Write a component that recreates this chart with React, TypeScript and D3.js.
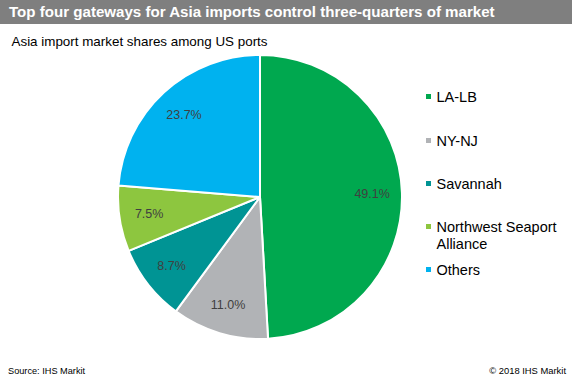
import React from "react";
import * as d3 from "d3";

const categories = ["LA-LB", "NY-NJ", "Savannah", "Northwest Seaport Alliance", "Others"];
const legendLines = [["LA-LB"], ["NY-NJ"], ["Savannah"], ["Northwest Seaport", "Alliance"], ["Others"]];
const shares = [49.1, 11.0, 8.7, 7.5, 23.7];
const colors = ["#00a84f", "#b1b3b6", "#009494", "#8dc63f", "#00b2ef"];

const W = 572;
const H = 381;
const FONT = "'Liberation Sans', Arial, sans-serif";

export default function App() {
  const cx = 260;
  const cy = 197;
  const R = 142;
  const pie = d3.pie<number>().sort(null).value((d) => d);
  const arcs = pie(shares);
  const arc = d3.arc<d3.PieArcDatum<number>>().innerRadius(0).outerRadius(R);
  const labelArc = d3.arc<d3.PieArcDatum<number>>().innerRadius(R * 0.79).outerRadius(R * 0.79);
  const legendY = [97, 141, 184, 227, 270];

  return (
    <svg width={W} height={H} style={{ position: "absolute", left: 0, top: 0, display: "block" }}>
      <rect x={0} y={0} width={W} height={H} fill="#fff" />
      <rect x={0} y={0} width={W} height={24} fill="#7f7f7f" />
      <text x={9} y={17} fill="#fff" fontFamily={FONT} fontWeight="bold" fontSize={15.1}>
        Top four gateways for Asia imports control three-quarters of market
      </text>
      <text x={11.5} y={46} fill="#000" fontFamily={FONT} fontSize={13.4}>
        Asia import market shares among US ports
      </text>
      <g transform={`translate(${cx},${cy})`}>
        {arcs.map((a, i) => (
          <path key={i} d={arc(a) || ""} fill={colors[i]} stroke="#fff" strokeWidth={2} strokeLinejoin="round" />
        ))}
        {arcs.map((a, i) => {
          const [x, y] = labelArc.centroid(a);
          return (
            <text key={i} x={x} y={y} textAnchor="middle" dominantBaseline="central" fill="#404040" fontFamily={FONT} fontSize={12.5}>
              {shares[i].toFixed(1)}%
            </text>
          );
        })}
      </g>
      {categories.map((c, i) => (
        <g key={c}>
          <rect x={426} y={legendY[i] - 3} width={5} height={5} fill={colors[i]} />
          {legendLines[i].map((ln, j) => (
            <text key={j} x={436.5} y={legendY[i] + 5 + j * 16.5} fill="#000" fontFamily={FONT} fontSize={14.5}>
              {ln}
            </text>
          ))}
        </g>
      ))}
      <text x={8} y={374} fill="#000" fontFamily={FONT} fontSize={9.2}>
        Source: IHS Markit
      </text>
      <text x={566} y={374} textAnchor="end" fill="#000" fontFamily={FONT} fontSize={9.4}>
        © 2018 IHS Markit
      </text>
    </svg>
  );
}
